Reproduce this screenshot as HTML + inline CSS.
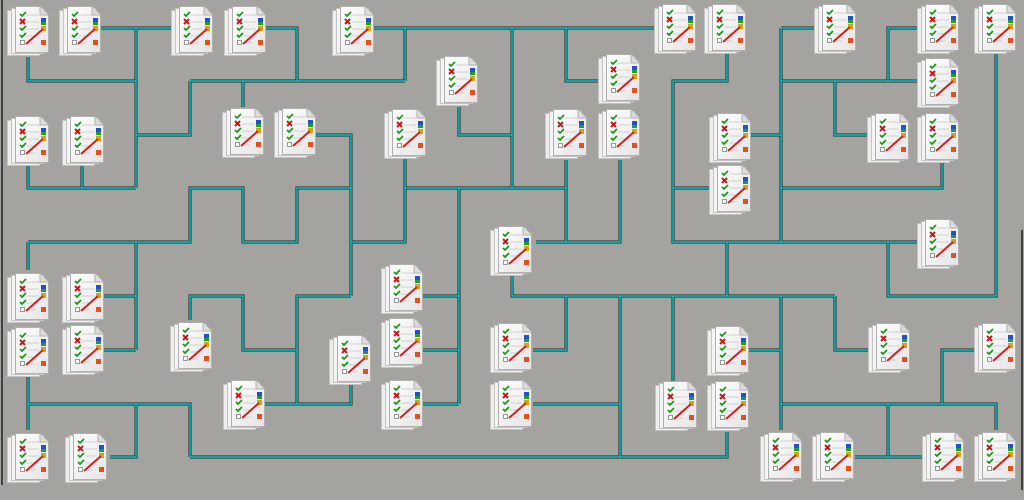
<!DOCTYPE html>
<html><head><meta charset="utf-8"><style>
html,body{margin:0;padding:0;background:#a5a39f;}
svg{display:block}
</style></head><body>
<svg width="1024" height="500" viewBox="0 0 1024 500" xmlns="http://www.w3.org/2000/svg">
<defs>
<linearGradient id="pg" x1="0" y1="0" x2="1" y2="1"><stop offset="0" stop-color="#ffffff"/><stop offset="1" stop-color="#e4e4e4"/></linearGradient>
<symbol id="ic" viewBox="0 0 42 52" width="42" height="52">
<rect x="0.5" y="5.5" width="32" height="45" fill="#eeeeee" stroke="#c4c4c4"/>
<rect x="4.5" y="3.5" width="32" height="45" fill="#f4f4f4" stroke="#c4c4c4"/>
<path d="M8.5 1.5 H33 L41.5 10 V47.5 H8.5 Z" fill="url(#pg)" stroke="#b0b0b0"/>
<path d="M33 1.5 V10 H41.5" fill="#dcdcdc" stroke="#b0b0b0"/>
<g stroke="#d0d0d0" stroke-width="1"><line x1="20" y1="10" x2="32" y2="10"/><line x1="20" y1="17" x2="32" y2="17"/><line x1="20" y1="24" x2="32" y2="24"/><line x1="20" y1="31" x2="30" y2="31"/><line x1="20" y1="38" x2="28" y2="38"/></g>
<g fill="none" stroke="#1a9a1a" stroke-width="1.8"><path d="M13 9 l2 2 l4 -4"/><path d="M13 23 l2 2 l4 -4"/><path d="M13 30 l2 2 l4 -4"/></g>
<path d="M13 14 l5 5 M18 14 l-5 5" stroke="#c81818" stroke-width="2"/>
<rect x="13.5" y="35.5" width="4" height="4" fill="#fff" stroke="#999"/>
<rect x="34" y="13" width="5" height="4" fill="#2050d0"/><rect x="34" y="17" width="5" height="3" fill="#20a020"/>
<rect x="34" y="21" width="5" height="5" fill="#d8a020"/>
<rect x="34" y="35" width="5" height="5" fill="#e05020"/>
<line x1="19" y1="39" x2="36" y2="24" stroke="#d02020" stroke-width="2"/>
</symbol>
</defs>
<line x1="2" y1="0" x2="2" y2="485" stroke="#222" stroke-width="1.5"/>
<line x1="1022" y1="230" x2="1022" y2="490" stroke="#222" stroke-width="1.5"/>
<g id="L" fill="none" stroke-linecap="square">
<path id="p" d="
M100 28 H172 M136 28 V188 M265 28 H297 V81 M372 28 H655 M405 28 V81 M512 28 V188 M566 28 V81 H598
M28 57 V81 H136 M190 81 H405 M243 81 V107 M190 81 V135 H136
M28 165 V188 H136 M82 165 V188
M315 135 H351 V296 M459 107 V135 H512
M405 158 V188 H566 V242 M459 188 V404
M28 242 H190 V188 H243 V242 H297 V188 H351 M351 242 H405 V188
M28 242 V270 M136 242 V350 M100 296 H136 M100 350 H136
M28 375 V430 M28 404 H190 V457 M136 404 V457 H110 M190 457 H727 V432
M190 320 V296 H243 V350 H297 V296 H351 M297 296 V404 H265 M297 404 H351 V385
M420 296 H459 M420 350 H459 M420 404 H459
M536 242 H620 V160 M566 160 V242
M727 50 V81 H673 V242 H918 M727 242 V296 M888 242 V296 H996 V53
M781 28 H815 M781 28 V242 M781 81 H918 M888 81 V28 H918 M835 81 V135 H868 M750 135 H781 M673 188 H710 M942 160 V188 H781
M512 272 V296 H835 M566 296 V350 H533 M620 296 V457 M533 404 H620 M673 296 V412
M781 296 V430 M748 350 H781 M835 296 V350 H868
M781 404 H996 V430 M888 404 V457 H855 M888 457 H922 M942 404 V350 H975
"/>
</g>
<use href="#p" stroke="#1c2424" stroke-width="3" fill="none"/>
<use href="#p" stroke="#08cccc" stroke-width="1.4" fill="none"/>
<g>
<use href="#ic" x="7" y="5"/><use href="#ic" x="59" y="5"/><use href="#ic" x="171" y="5"/><use href="#ic" x="224" y="5"/><use href="#ic" x="332" y="5"/>
<use href="#ic" x="654" y="3"/><use href="#ic" x="704" y="3"/><use href="#ic" x="814" y="3"/><use href="#ic" x="917" y="3"/><use href="#ic" x="974" y="3"/>
<use href="#ic" x="436" y="55"/><use href="#ic" x="598" y="53"/><use href="#ic" x="917" y="57"/>
<use href="#ic" x="7" y="115"/><use href="#ic" x="62" y="115"/><use href="#ic" x="222" y="107"/><use href="#ic" x="274" y="107"/><use href="#ic" x="384" y="108"/>
<use href="#ic" x="545" y="108"/><use href="#ic" x="598" y="108"/><use href="#ic" x="709" y="112"/><use href="#ic" x="867" y="112"/><use href="#ic" x="917" y="112"/>
<use href="#ic" x="709" y="164"/><use href="#ic" x="490" y="225"/><use href="#ic" x="917" y="218"/>
<use href="#ic" x="7" y="272"/><use href="#ic" x="62" y="272"/><use href="#ic" x="381" y="263"/>
<use href="#ic" x="7" y="326"/><use href="#ic" x="62" y="324"/><use href="#ic" x="170" y="321"/><use href="#ic" x="381" y="317"/><use href="#ic" x="490" y="322"/>
<use href="#ic" x="707" y="325"/><use href="#ic" x="868" y="322"/><use href="#ic" x="974" y="322"/><use href="#ic" x="329" y="334"/>
<use href="#ic" x="223" y="379"/><use href="#ic" x="381" y="379"/><use href="#ic" x="490" y="379"/><use href="#ic" x="655" y="380"/><use href="#ic" x="707" y="380"/>
<use href="#ic" x="7" y="432"/><use href="#ic" x="65" y="432"/><use href="#ic" x="760" y="431"/><use href="#ic" x="812" y="431"/><use href="#ic" x="922" y="431"/><use href="#ic" x="974" y="431"/>
</g>
</svg>
</body></html>
